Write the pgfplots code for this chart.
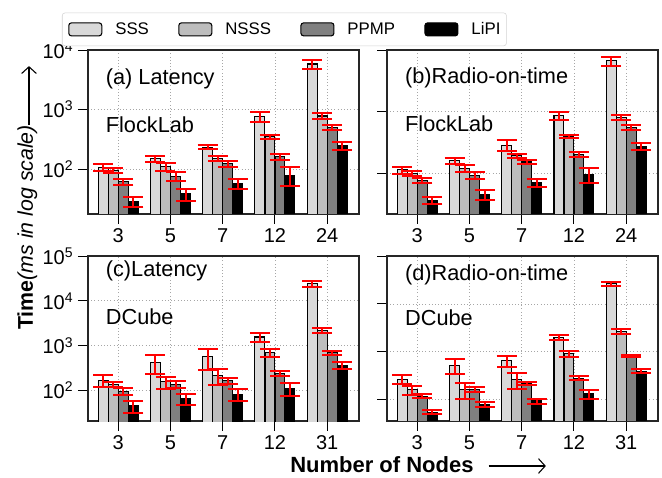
\documentclass[border=0pt]{standalone}
\usepackage{fontspec}
\setmainfont{Liberation Sans}
\usepackage{pgfplots}
\usepackage{pgfplotstable}
\pgfplotsset{compat=1.18}
\usepgfplotslibrary{groupplots}
\usetikzlibrary{arrows.meta}

\definecolor{cSSS}{RGB}{217,217,217}
\definecolor{cNSSS}{RGB}{189,189,189}
\definecolor{cPPMP}{RGB}{128,128,128}
\definecolor{cLiPI}{RGB}{0,0,0}

% (a) latency, FlockLab
\pgfplotstableread{
x sss sssE nsss nsssE ppmp ppmpE lipi lipiE
0 107 15 97 9 62 8 28.7 5
1 149 19 111 16 77 14 38.6 9
2 234 19 153 16 123 13 58 12
3 764 140 352 25 163 20 80 28
4 5820 1000 783 85 506 52 246 38
}\tabA
% (b) radio-on-time, FlockLab
\pgfplotstableread{
x sss sssE nsss nsssE ppmp ppmpE lipi lipiE
0 114 15 100 9 77 8 36.6 5
1 160 18 120 15 94 13 45.5 9
2 287 55 195 15 153 12 71 11
3 855 125 393 22 202 20 96 27
4 6700 1100 815 80 559 50 273 33
}\tabB
% (c) latency, DCube
\pgfplotstableread{
x sss sssE nsss nsssE ppmp ppmpE lipi lipiE
0 170 48 138 19 97 18 46 14
1 421 190 156 50 136 24 65 18
2 562 280 220 85 164 26 83 25
3 1567 350 702 150 239 31 111 35
4 24150 3600 2210 240 702 75 367 65
}\tabC
% (d) radio-on-time, DCube
\pgfplotstableread{
x sss sssE nsss nsssE ppmp ppmpE lipi lipiE
0 265 56 162 34 119 10 55 5.5
1 519 175 162 60 164 22 80 9
2 659 170 270 100 215 15 94 11
3 2020 270 908 140 283 25 133 27
4 26100 3000 2700 300 826 50 395 42
}\tabD

\pgfplotsset{
  mybar/.style={draw=black, line width=0.8pt},
  errbar/.style={forget plot, draw=none, fill=none,
    error bars/.cd, y dir=both, y explicit,
    error bar style={draw=red, line width=1.5pt},
    error mark options={rotate=90, draw=red, line width=1.5pt, mark size=7.5pt}},
}

\newcommand{\bars}[1]{%
  \addplot[mybar, /pgf/bar shift=-0.2875, fill=cSSS] table[x=x,y=sss]{#1};
  \addplot[mybar, /pgf/bar shift=-0.0958, fill=cNSSS] table[x=x,y=nsss]{#1};
  \addplot[mybar, /pgf/bar shift=0.0958, fill=cPPMP] table[x=x,y=ppmp]{#1};
  \addplot[mybar, /pgf/bar shift=0.2875, fill=cLiPI] table[x=x,y=lipi]{#1};
  \addplot[errbar, /pgf/bar shift=-0.2875] table[x=x,y=sss,y error=sssE]{#1};
  \addplot[errbar, /pgf/bar shift=-0.0958] table[x=x,y=nsss,y error=nsssE]{#1};
  \addplot[errbar, /pgf/bar shift=0.0958] table[x=x,y=ppmp,y error=ppmpE]{#1};
  \addplot[errbar, /pgf/bar shift=0.2875] table[x=x,y=lipi,y error=lipiE]{#1};
}

\begin{document}
\begin{tikzpicture}
\begin{groupplot}[
  group style={group size=2 by 2, horizontal sep=21pt, vertical sep=31.5pt},
  scale only axis,
  width=203.25pt,
  ybar,
  /pgf/bar width=0.19,
  ymode=log,
  log basis y=10,
  xmin=-0.58, xmax=4.61,
  xtick={0,...,4},
  tick pos=left,
  tick align=outside,
  major tick length=7.5pt,
  yminorticks=false,
  grid=major,
  grid style={dotted, gray!70, line width=0.6pt},
  axis line style={line width=0.9pt, black!85},
  tick style={line width=0.7pt, black},
  tick label style={font=\fontsize{15}{15}\selectfont},
  legend image code/.code={\draw[#1, draw=black, line width=0.8pt] (0pt,-4.875pt) rectangle (24.75pt,4.875pt);},
]
\nextgroupplot[height=123pt, ymin=17.8, ymax=10000,
  ytick={100,1000,10000},
  yticklabels={10\textsuperscript{2},10\textsuperscript{3},10\textsuperscript{4}},
  xticklabels={3,5,7,12,24},
  legend columns=4,
  legend style={at={(-0.096,1.024)}, anchor=south west,
    draw=gray!35, rounded corners=2pt,
    font=\fontsize{12.6}{12}\selectfont,
    inner xsep=4.5pt, inner ysep=7pt,
    nodes={inner sep=0pt},
    /tikz/every odd column/.append style={column sep=9.75pt},
    /tikz/every even column/.append style={column sep=22pt}},
]
\bars{\tabA}
\legend{SSS,NSSS,PPMP,LiPI}
\node[anchor=base west, inner sep=0pt, font=\fontsize{16.3}{16}\selectfont] at (rel axis cs:0.065,0.787) {(a) Latency};
\node[anchor=base west, inner sep=0pt, font=\fontsize{16.3}{16}\selectfont] at (rel axis cs:0.065,0.496) {FlockLab};

\nextgroupplot[height=123pt, ymin=22, ymax=10000,
  ytick={100,1000,10000}, yticklabels={},
  xticklabels={3,5,7,12,24},
]
\bars{\tabB}
\node[anchor=base west, inner sep=0pt, font=\fontsize{16.3}{16}\selectfont] at (rel axis cs:0.066,0.797) {(b)Radio-on-time};
\node[anchor=base west, inner sep=0pt, font=\fontsize{16.3}{16}\selectfont] at (rel axis cs:0.066,0.502) {FlockLab};

\nextgroupplot[height=123.75pt, ymin=21, ymax=100000,
  ytick={100,1000,10000,100000},
  yticklabels={10\textsuperscript{2},10\textsuperscript{3},10\textsuperscript{4},10\textsuperscript{5}},
  xticklabels={3,5,7,12,31},
]
\bars{\tabC}
\node[anchor=base west, inner sep=0pt, font=\fontsize{16.3}{16}\selectfont] at (rel axis cs:0.065,0.875) {(c)Latency};
\node[anchor=base west, inner sep=0pt, font=\fontsize{16.3}{16}\selectfont] at (rel axis cs:0.065,0.586) {DCube};

\nextgroupplot[height=123.75pt, ymin=36, ymax=100000,
  ytick={100,1000,10000,100000}, yticklabels={},
  xticklabels={3,5,7,12,31},
]
\bars{\tabD}
\node[anchor=base west, inner sep=0pt, font=\fontsize{16.3}{16}\selectfont] at (rel axis cs:0.066,0.85) {(d)Radio-on-time};
\node[anchor=base west, inner sep=0pt, font=\fontsize{16.3}{16}\selectfont] at (rel axis cs:0.066,0.576) {DCube};
\end{groupplot}

% axis descriptions with arrows
\node[rotate=90, anchor=base west, inner sep=0pt, font=\fontsize{16}{16}\selectfont] (yl)
  at ([xshift=-41.25pt, yshift=-210pt]group c1r1.north west) {\textbf{Time}\textit{(ms in log scale)}};
\draw[-{Straight Barb[length=5pt, width=11pt]}, line width=0.8pt]
  ([xshift=-3pt]yl.base east) -- ++(0,44pt);
\node[anchor=base west, inner sep=0pt, font=\fontsize{16.5}{16}\selectfont\bfseries] (xl)
  at ([xshift=151.5pt, yshift=-317.25pt]group c1r1.north west) {Number of Nodes};
\draw[-{Straight Barb[length=5pt, width=11pt]}, line width=0.8pt]
  ([xshift=11pt, yshift=5.25pt]xl.base east) -- ++(43pt,0);

\pgfresetboundingbox
\path[use as bounding box] ([xshift=-66pt, yshift=37.5pt]group c1r1.north west)
  rectangle ([xshift=430.5pt, yshift=-321pt]group c1r1.north west);
\end{tikzpicture}
\end{document}
